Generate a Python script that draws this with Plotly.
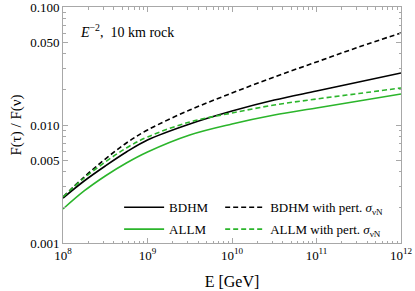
import plotly.graph_objects as go

# log10(E/GeV) sample points
log_e = [8.0, 8.25, 8.5, 8.75, 9.0, 9.5, 10.0, 10.5, 11.0, 11.5, 12.0]
energy = [10 ** v for v in log_e]

bdhm = [0.002406, 0.003353, 0.004494, 0.005905, 0.007462, 0.01020, 0.01314, 0.01628, 0.01941, 0.02314, 0.02759]
allm = [0.001941, 0.002759, 0.003697, 0.004764, 0.005905, 0.008228, 0.01020, 0.01215, 0.01393, 0.01597, 0.01831]
bdhm_pert = [0.002454, 0.003625, 0.005150, 0.007040, 0.009071, 0.01340, 0.01867, 0.02551, 0.03420, 0.04581, 0.06022]
allm_pert = [0.002454, 0.003555, 0.004858, 0.006385, 0.007914, 0.01060, 0.01264, 0.01477, 0.01661, 0.01848, 0.02059]

x_tick_vals = [1e8, 1e9, 1e10, 1e11, 1e12]
x_tick_text = ["10<sup>8</sup>", "10<sup>9</sup>", "10<sup>10</sup>", "10<sup>11</sup>", "10<sup>12</sup>"]
y_tick_vals = [0.001, 0.005, 0.010, 0.050, 0.100]
y_tick_text = ["0.001", "0.005", "0.010", "0.050", "0.100"]

BLACK = "#000000"
GREEN = "#2bb52b"
FONT = "Liberation Serif, Times New Roman, serif"
sig = "<i>σ</i><sub>νN</sub>"

fig = go.Figure()
fig.add_trace(go.Scatter(x=energy, y=bdhm, mode="lines", name="BDHM", legend="legend",
                         legendgroup="a", legendrank=1,
                         line=dict(color=BLACK, width=1.6, shape="spline")))
fig.add_trace(go.Scatter(x=energy, y=allm, mode="lines", name="ALLM", legend="legend",
                         legendgroup="b", legendrank=2,
                         line=dict(color=GREEN, width=1.6, shape="spline")))
fig.add_trace(go.Scatter(x=energy, y=bdhm_pert, mode="lines", name="BDHM with pert. " + sig,
                         legend="legend2", legendgroup="c", legendrank=1,
                         line=dict(color=BLACK, width=1.6, dash="5px,3px", shape="spline")))
fig.add_trace(go.Scatter(x=energy, y=allm_pert, mode="lines", name="ALLM with pert. " + sig,
                         legend="legend2", legendgroup="d", legendrank=2,
                         line=dict(color=GREEN, width=1.6, dash="5px,3px", shape="spline")))

axis_common = dict(
    showgrid=False, zeroline=False, showline=True, linecolor="#a8a8a8", linewidth=1,
    mirror="ticks", ticks="inside", ticklen=5, tickcolor="#a8a8a8", automargin=False,
    ticklabeloverflow="allow",
    tickfont=dict(family=FONT, size=13, color="#000"),
)

fig.update_xaxes(type="log", range=[8, 12], tickvals=x_tick_vals, ticktext=x_tick_text,
                 minor=dict(ticks="inside", ticklen=2.5, tickcolor="#a8a8a8", dtick="D1"),
                 title=dict(text="E [GeV]", font=dict(family=FONT, size=16, color="#000"), standoff=14),
                 **axis_common)
fig.update_yaxes(type="log", range=[-3, -1], tickvals=y_tick_vals, ticktext=y_tick_text,
                 minor=dict(ticks="inside", ticklen=2.5, tickcolor="#a8a8a8", dtick="D1"),
                 title=dict(text="F(τ) / F(ν)", font=dict(family=FONT, size=15, color="#000"), standoff=4),
                 **axis_common)

fig.add_annotation(xref="paper", yref="paper", x=0.045, y=0.9, xanchor="left", yanchor="middle",
                   text="<i>E</i><sup>−2</sup>,  10 km rock", showarrow=False,
                   font=dict(family=FONT, size=14, color="#000"))

legend_common = dict(orientation="v", yanchor="top", y=0.215, xanchor="left",
                     tracegroupgap=2, itemwidth=40, bgcolor="rgba(0,0,0,0)",
                     font=dict(family=FONT, size=13, color="#000"))

fig.update_layout(
    width=415, height=291,
    margin=dict(l=63, r=14, t=7, b=48),
    paper_bgcolor="white", plot_bgcolor="white",
    font=dict(family=FONT),
    showlegend=True,
    legend=dict(x=0.166, **legend_common),
    legend2=dict(x=0.465, **legend_common),
)

fig.write_html("out.html", config={"displayModeBar": False},
               post_script="document.body.style.margin='0';document.body.style.padding='0';")
